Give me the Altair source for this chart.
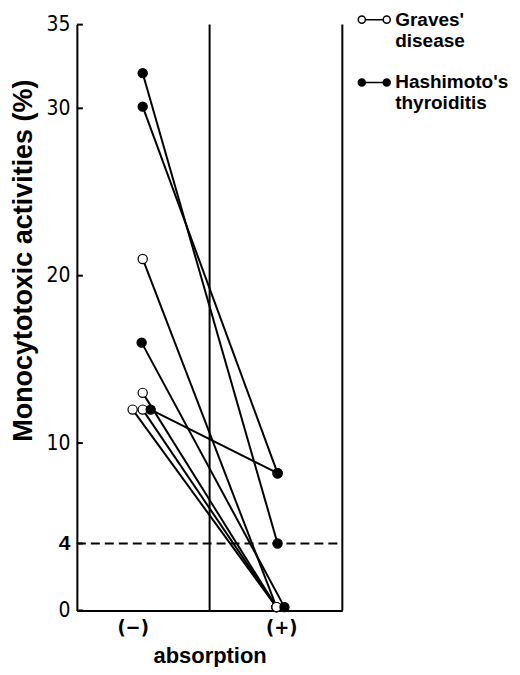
import altair as alt
import pandas as pd

# ---- data ----
groups = ["Graves' disease"] * 4 + ["Hashimoto's thyroiditis"] * 4
before_vals = [21, 13, 12, 12, 32.1, 30.1, 16, 12]
after_vals = [0.2, 0.2, 0.2, 0.2, 4, 8.2, 0.2, 8.2]
before_pos = [2.48, 2.48, 2.1, 2.48, 2.48, 2.48, 2.44, 2.78]
after_pos = [7.52, 7.52, 7.52, 7.52, 7.56, 7.56, 7.82, 7.56]
y_ticks = [0, 4, 10, 20, 30, 35]
x_ticks = [2.1, 7.7]
x_labels = ["(−)", "(+)"]
threshold = [4]
dividers = [5, 10]
legend_order = ["Graves' disease", "Hashimoto's thyroiditis"]

rows = []
for i, g in enumerate(groups):
    rows.append({"id": i, "group": g, "phase": 0, "x": before_pos[i], "y": before_vals[i]})
    rows.append({"id": i, "group": g, "phase": 1, "x": after_pos[i], "y": after_vals[i]})
df = pd.DataFrame(rows)

xs = alt.Scale(domain=[0, 10], nice=False, zero=False)
ys = alt.Scale(domain=[0, 35], nice=False, zero=True)

label_expr = f"datum.value < 5 ? '{x_labels[0]}' : '{x_labels[1]}'"

cond_font = "Liberation Sans Narrow, DejaVu Sans Condensed, sans-serif"

x_enc = alt.X("x:Q", scale=xs, axis=alt.Axis(
    values=x_ticks, labelExpr=label_expr, ticks=False, grid=False,
    domainColor="black", domainWidth=2, labelFont=cond_font, labelFontWeight="bold",
    labelFontSize=20, labelColor="black", labelPadding=7,
    title="absorption", titleFont="Liberation Sans", titleFontSize=22,
    titleFontWeight="bold", titleColor="black", titleBaseline="alphabetic", titleY=52))
y_enc = alt.Y("y:Q", scale=ys, axis=alt.Axis(
    values=y_ticks, ticks=False, grid=False, domainColor="black", domainWidth=2,
    labelFont=alt.condition("datum.value == 4", alt.value("Liberation Sans"), alt.value(cond_font)),
    labelFontWeight=alt.condition("datum.value == 4", alt.value("bold"), alt.value("normal")),
    labelFontSize=21, labelColor="black", labelPadding=7,
    title="Monocytotoxic activities (%)", titleFont="Liberation Sans", titleFontSize=27,
    titleFontWeight="bold", titleColor="black", titleAngle=-90, titleAlign="center",
    titleBaseline="alphabetic", titleX=-45, titleY=236))

lines = alt.Chart(df).mark_line(color="black", strokeWidth=2).encode(
    x=x_enc, y=y_enc, detail="id:N", order="phase:Q")

sym = ("M -1 0 A 0.22 0.22 0 1 0 -0.56 0 A 0.22 0.22 0 1 0 -1 0 Z "
       "M -0.56 0 L 0.56 0 "
       "M 0.56 0 A 0.22 0.22 0 1 0 1 0 A 0.22 0.22 0 1 0 0.56 0 Z")

points = alt.Chart(df).mark_point(shape="circle", filled=True, size=85, stroke="black",
                                  strokeWidth=1.2, opacity=1).encode(
    x="x:Q", y="y:Q",
    fill=alt.Fill("group:N", scale=alt.Scale(domain=legend_order, range=["white", "black"]),
                  legend=alt.Legend(title=None, orient="none", legendX=281, legendY=-22,
                                    symbolType=sym, symbolSize=1024, symbolStrokeColor="black",
                                    symbolStrokeWidth=1.5, symbolOpacity=1,
                                    labelExpr="split(datum.label, ' ')",
                                    labelFont="Liberation Sans", labelFontWeight="bold",
                                    labelFontSize=19, labelColor="black",
                                    labelOffset=4, labelBaseline="middle", rowPadding=15,
                                    labelLimit=300)))

vrules = alt.Chart(pd.DataFrame({"x": dividers})).mark_rule(color="black", strokeWidth=2).encode(
    x=alt.X("x:Q", scale=xs), y=alt.value(0), y2=alt.value(587))

dash = alt.Chart(pd.DataFrame({"y": threshold})).mark_rule(
    color="black", strokeWidth=2, strokeDash=[9, 5]).encode(
    y=alt.Y("y:Q", scale=ys), x=alt.value(0), x2=alt.value(266))

ticks = alt.Chart(pd.DataFrame({"y": y_ticks})).mark_rule(color="black", strokeWidth=2).encode(
    y=alt.Y("y:Q", scale=ys), x=alt.value(0), x2=alt.value(6))

chart = alt.layer(vrules, dash, ticks, lines, points).properties(
    width=266, height=587,
    autosize=alt.AutoSizeParams(type="none"),
    padding={"left": 69, "top": 16, "right": 170, "bottom": 56},
).configure_view(stroke=None)

chart.save("out.html", embed_options={"renderer": "svg", "actions": False})
